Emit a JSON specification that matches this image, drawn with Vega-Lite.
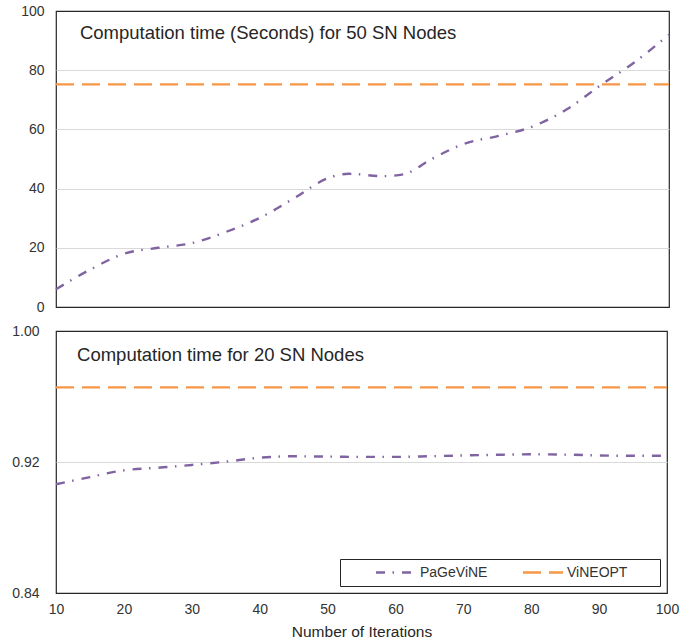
{
  "$schema": "https://vega.github.io/schema/vega-lite/v6.json",
  "padding": {"left": 11, "top": 3, "right": 10, "bottom": 5},
  "background": "white",
  "bounds": "flush",
  "spacing": 24,
  "datasets": {
    "top": [
      {"iter": 10, "value": 6.0, "series": "PaGeViNE"},
      {"iter": 15, "value": 12.6, "series": "PaGeViNE"},
      {"iter": 20, "value": 18.0, "series": "PaGeViNE"},
      {"iter": 25, "value": 20.0, "series": "PaGeViNE"},
      {"iter": 30, "value": 21.6, "series": "PaGeViNE"},
      {"iter": 35, "value": 25.4, "series": "PaGeViNE"},
      {"iter": 40, "value": 30.2, "series": "PaGeViNE"},
      {"iter": 45, "value": 36.8, "series": "PaGeViNE"},
      {"iter": 50, "value": 43.6, "series": "PaGeViNE"},
      {"iter": 53, "value": 45.0, "series": "PaGeViNE"},
      {"iter": 58, "value": 44.2, "series": "PaGeViNE"},
      {"iter": 61, "value": 44.8, "series": "PaGeViNE"},
      {"iter": 65, "value": 49.8, "series": "PaGeViNE"},
      {"iter": 70, "value": 55.2, "series": "PaGeViNE"},
      {"iter": 75, "value": 57.8, "series": "PaGeViNE"},
      {"iter": 80, "value": 61.0, "series": "PaGeViNE"},
      {"iter": 85, "value": 66.8, "series": "PaGeViNE"},
      {"iter": 90, "value": 75.0, "series": "PaGeViNE"},
      {"iter": 95, "value": 82.8, "series": "PaGeViNE"},
      {"iter": 100, "value": 92.0, "series": "PaGeViNE"},
      {"iter": 10, "value": 75.2, "series": "ViNEOPT"},
      {"iter": 100, "value": 75.2, "series": "ViNEOPT"}
    ],
    "bottom": [
      {"iter": 10, "value": 0.9064, "series": "PaGeViNE"},
      {"iter": 15, "value": 0.9108, "series": "PaGeViNE"},
      {"iter": 20, "value": 0.9149, "series": "PaGeViNE"},
      {"iter": 25, "value": 0.9165, "series": "PaGeViNE"},
      {"iter": 30, "value": 0.9182, "series": "PaGeViNE"},
      {"iter": 35, "value": 0.9202, "series": "PaGeViNE"},
      {"iter": 40, "value": 0.9226, "series": "PaGeViNE"},
      {"iter": 45, "value": 0.9235, "series": "PaGeViNE"},
      {"iter": 50, "value": 0.9233, "series": "PaGeViNE"},
      {"iter": 55, "value": 0.9231, "series": "PaGeViNE"},
      {"iter": 60, "value": 0.9231, "series": "PaGeViNE"},
      {"iter": 65, "value": 0.9235, "series": "PaGeViNE"},
      {"iter": 70, "value": 0.924, "series": "PaGeViNE"},
      {"iter": 75, "value": 0.9244, "series": "PaGeViNE"},
      {"iter": 80, "value": 0.9247, "series": "PaGeViNE"},
      {"iter": 85, "value": 0.9245, "series": "PaGeViNE"},
      {"iter": 90, "value": 0.924, "series": "PaGeViNE"},
      {"iter": 95, "value": 0.9238, "series": "PaGeViNE"},
      {"iter": 100, "value": 0.9238, "series": "PaGeViNE"},
      {"iter": 10, "value": 0.9656, "series": "ViNEOPT"},
      {"iter": 100, "value": 0.9656, "series": "ViNEOPT"}
    ],
    "titles_top": [
      {"label": "Computation time (Seconds) for 50 SN Nodes", "iter": 13.52, "value": 90.44}
    ],
    "titles_bottom": [
      {"label": "Computation time for 20 SN Nodes", "iter": 13.1, "value": 0.9817}
    ]
  },
  "vconcat": [
    {
      "width": 613,
      "height": 296,
      "layer": [
        {
          "data": {"name": "top"},
          "mark": {"type": "line", "interpolate": "monotone", "strokeWidth": 2.4},
          "encoding": {
            "x": {"field": "iter", "type": "quantitative", "scale": {"domain": [10, 100], "nice": false, "zero": false}, "axis": null},
            "y": {
              "field": "value", "type": "quantitative",
              "scale": {"domain": [0, 100], "nice": false},
              "axis": {
                "title": null,
                "values": [0, 20, 40, 60, 80, 100],
                "labelPadding": 12,
                "gridOpacity": {"condition": {"test": "datum.value > 0 && datum.value < 100", "value": 1}, "value": 0}
              }
            },
            "color": {
              "field": "series", "type": "nominal", "title": " ",
              "scale": {"domain": ["PaGeViNE", "ViNEOPT"], "range": ["#8064a2", "#f79646"]}
            },
            "strokeDash": {
              "field": "series", "type": "nominal", "title": " ",
              "scale": {"domain": ["PaGeViNE", "ViNEOPT"], "range": [[9, 7.5, 1.5, 8], [18, 8]]}
            }
          }
        },
        {
          "data": {"name": "titles_top"},
          "mark": {"type": "text", "align": "left", "baseline": "alphabetic", "font": "Liberation Sans", "fontSize": 18.5, "color": "#262626"},
          "encoding": {
            "x": {"field": "iter", "type": "quantitative"},
            "y": {"field": "value", "type": "quantitative"},
            "text": {"field": "label"}
          }
        }
      ]
    },
    {
      "width": 611,
      "height": 262,
      "layer": [
        {
          "data": {"name": "bottom"},
          "mark": {"type": "line", "interpolate": "monotone", "strokeWidth": 2.4},
          "encoding": {
            "x": {
              "field": "iter", "type": "quantitative",
              "scale": {"domain": [10, 100], "nice": false, "zero": false},
              "axis": {
                "title": "Number of Iterations",
                "values": [10, 20, 30, 40, 50, 60, 70, 80, 90, 100],
                "grid": false,
                "labelFlush": false,
                "labelPadding": 9,
                "titlePadding": 8,
                "titleFontSize": 15.5,
                "titleFontWeight": "normal",
                "titleFont": "Liberation Sans",
                "titleColor": "#262626"
              }
            },
            "y": {
              "field": "value", "type": "quantitative",
              "scale": {"domain": [0.84, 1.0], "nice": false, "zero": false},
              "axis": {
                "title": null,
                "values": [0.84, 0.92, 1.0],
                "format": ".2f",
                "labelPadding": 17,
                "gridOpacity": {"condition": {"test": "datum.value > 0.85 && datum.value < 0.99", "value": 1}, "value": 0}
              }
            },
            "color": {
              "field": "series", "type": "nominal", "title": " ",
              "scale": {"domain": ["PaGeViNE", "ViNEOPT"], "range": ["#8064a2", "#f79646"]}
            },
            "strokeDash": {
              "field": "series", "type": "nominal", "title": " ",
              "scale": {"domain": ["PaGeViNE", "ViNEOPT"], "range": [[9, 7.5, 1.5, 8], [18, 8]]}
            }
          }
        },
        {
          "data": {"name": "titles_bottom"},
          "mark": {"type": "text", "align": "left", "baseline": "alphabetic", "font": "Liberation Sans", "fontSize": 18.5, "color": "#262626"},
          "encoding": {
            "x": {"field": "iter", "type": "quantitative"},
            "y": {"field": "value", "type": "quantitative"},
            "text": {"field": "label"}
          }
        }
      ]
    }
  ],
  "config": {
    "font": "Liberation Sans",
    "view": {"stroke": "#262626", "strokeWidth": 1.2},
    "axis": {
      "domain": false,
      "ticks": false,
      "labelFont": "Liberation Sans",
      "labelFontSize": 14,
      "labelColor": "#333333",
      "gridColor": "#d9d9d9",
      "gridWidth": 1
    },
    "legend": {
      "orient": "none",
      "legendX": 284,
      "legendY": 548,
      "direction": "horizontal",
      "padding": 5.5,
      "clipHeight": 16,
      "strokeColor": "#262626",
      "fillColor": "white",
      "symbolType": "stroke",
      "symbolSize": 1600,
      "symbolStrokeWidth": 2.5,
      "symbolOffset": 29,
      "labelFont": "Liberation Sans",
      "labelFontSize": 14,
      "labelColor": "#333333",
      "labelOffset": 2.5,
      "columnPadding": 5,
      "titleOrient": "right",
      "titlePadding": 27,
      "titleFontSize": 14
    }
  }
}
